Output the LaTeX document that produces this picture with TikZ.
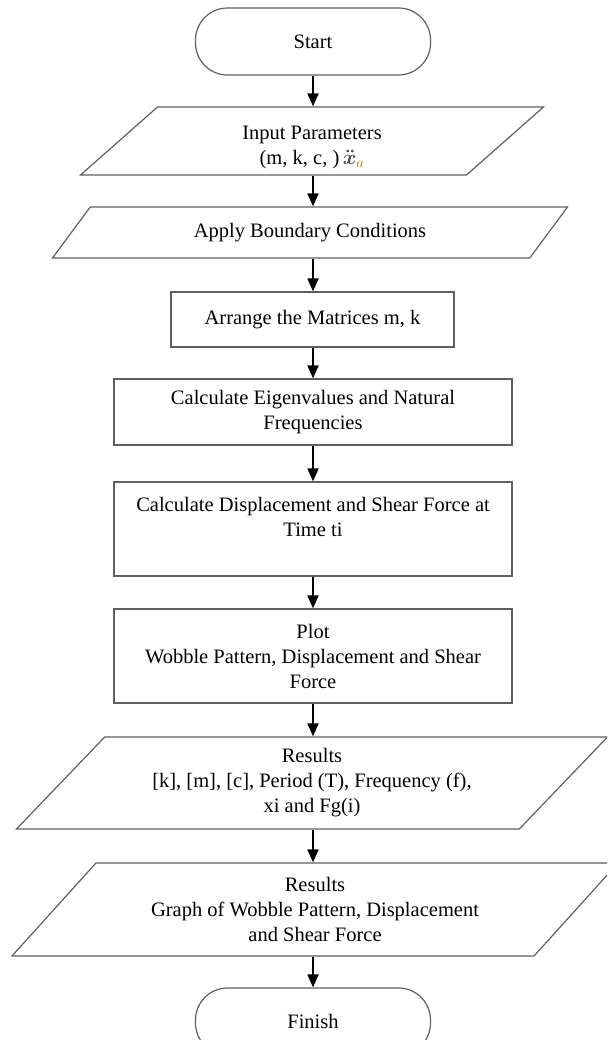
\documentclass[tikz,border=0pt]{standalone}
\usepackage{fontspec}
\setmainfont{Liberation Serif}
\usepackage{amsmath}
\usetikzlibrary{arrows.meta,shapes.geometric}

\definecolor{shapegray}{RGB}{95,95,95}

\tikzset{
  term/.style={draw=shapegray, line width=1.2pt, rounded corners=32pt,
    minimum width=235pt, minimum height=67pt, inner sep=0pt},
  procbox/.style={draw=shapegray, line width=1.2pt, minimum width=398pt,
    align=center, inner sep=0pt},
  iobox/.style={draw=shapegray, line width=1.2pt, trapezium,
    trapezium stretches body, align=center, inner sep=0pt},
  flow/.style={-{Triangle[width=11pt,length=13pt]}, line width=1.8pt, black},
}

\begin{document}
\begin{tikzpicture}[x=1pt, y=-1pt,
  every node/.style={font=\fontsize{20.5}{25}\selectfont}]

\clip (0,0) rectangle (607,1040);
\useasboundingbox (0,0) rectangle (607,1040);

% terminals
\node [term] (start) at (313,41.5) {Start};
\node [term] (finish) at (313,1021.5) {Finish};

% input / output
\node [iobox, minimum width=463pt, minimum height=68pt,
  trapezium left angle=36.2, trapezium right angle=143.8]
  (input) at (312,141) {\rule{0pt}{27pt}Input Parameters\\(m, k, c, )\,%
  {\color{gray!60!black}$\boldsymbol{\ddot{x}}_{\color{orange!85!black}a}$}};

\node [iobox, minimum width=515pt, minimum height=51pt,
  trapezium left angle=26.3, trapezium right angle=153.7]
  (apply) at (310,232.5) {Apply Boundary Conditions};

% process boxes
\node [procbox, minimum width=283pt, minimum height=55pt]
  (arrange) at (312.5,319.5) {Arrange the Matrices m, k};

\node [procbox, minimum height=66pt]
  (eigen) at (313,412) {Calculate Eigenvalues and Natural\\Frequencies};

\node [procbox, minimum height=94pt]
  (displ) at (313,529) {Calculate Displacement and Shear Force at\\Time ti\\~};

\node [procbox, minimum height=94pt]
  (plot) at (313,656) {Plot\\Wobble Pattern, Displacement and Shear\\Force};

% results
\node [iobox, minimum width=591pt, minimum height=92pt,
  trapezium left angle=37.9, trapezium right angle=142.1]
  (res1) at (312,783) {Results\\{[k], [m], [c], Period (T), Frequency (f),}\\xi and Fg(i)};

\node [iobox, minimum width=606pt, minimum height=93pt,
  trapezium left angle=37.5, trapezium right angle=142.5]
  (res2) at (315,909.5) {Results\\Graph of Wobble Pattern, Displacement\\and Shear Force};

% arrows
\draw [flow] (start.south) -- (start.south |- input.north);
\draw [flow] (start.south |- input.south) -- (start.south |- apply.north);
\draw [flow] (start.south |- apply.south) -- (start.south |- arrange.north);
\draw [flow] (start.south |- arrange.south) -- (start.south |- eigen.north);
\draw [flow] (eigen.south) -- (displ.north);
\draw [flow] (displ.south) -- (plot.north);
\draw [flow] (plot.south) -- (plot.south |- res1.north);
\draw [flow] (plot.south |- res1.south) -- (plot.south |- res2.north);
\draw [flow] (plot.south |- res2.south) -- (finish.north);

\end{tikzpicture}
\end{document}
